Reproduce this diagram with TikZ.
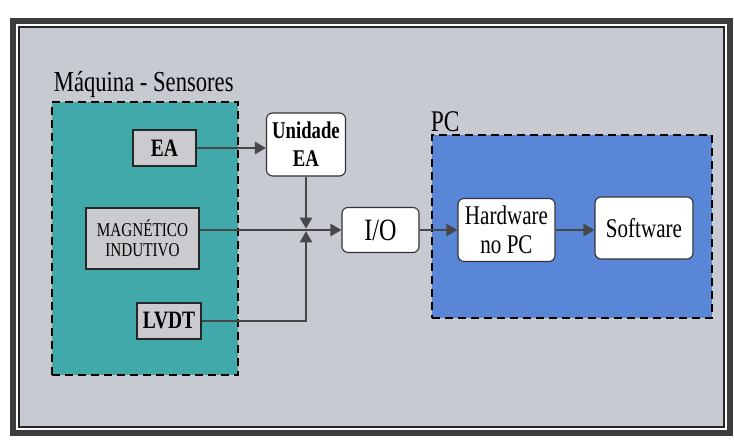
\documentclass[tikz,border=0pt]{standalone}
\usepackage{fontspec}
\setmainfont{Liberation Serif}[FakeStretch=0.78]
\usetikzlibrary{positioning, arrows.meta}
\definecolor{msgray}{HTML}{C8CAD1}
\definecolor{msteal}{HTML}{41A9A9}
\definecolor{msblue}{HTML}{5A86D8}
\definecolor{msbox}{HTML}{CACBCF}
\definecolor{msline}{HTML}{474747}
\definecolor{msframe}{HTML}{3C3C3C}

\begin{document}
\begin{tikzpicture}[x=1pt, y=1pt,
    grp/.style={draw=black, line width=2.6pt, dash pattern=on 8pt off 5pt, inner sep=0pt},
    sens/.style={draw=black!85, line width=1.2pt, fill=msbox, inner sep=0pt, align=center},
    wbox/.style={draw=black!80, line width=1.1pt, fill=white, rounded corners=6pt, inner sep=0pt, align=center},
    flow/.style={draw=msline, line width=2.6pt, -{Triangle[length=11pt, width=12pt]}}]
  \useasboundingbox (0,0) rectangle (734,443);
  % moldura
  \fill[msframe] (10,7) rectangle (733,425);
  \fill[white] (16,13) rectangle (727,419);
  \fill[black!85] (18,15) rectangle (725,417);
  \fill[msgray] (20,17) rectangle (723,415);

  % grupos
  \node[grp, fill=msteal, minimum width=186pt, minimum height=273pt] (maq) at (145,204.5) {};
  \node[grp, fill=msblue, minimum width=280pt, minimum height=183pt] (pc) at (572,216.5) {};
  \node[anchor=base west, inner sep=0pt, font=\fontsize{29}{29}\selectfont] (maqlbl)
    at ([xshift=3pt, yshift=9pt]maq.north west) {Máquina - Sensores};
  \node[anchor=base west, inner sep=0pt, font=\fontsize{30}{30}\selectfont] (pclbl)
    at ([yshift=2pt]pc.north west) {PC};

  % sensores
  \node[sens, minimum width=63pt, minimum height=36pt, font=\bfseries\fontsize{25}{25}\selectfont] (ea) at (164.5,295) {EA};
  \node[sens, minimum width=113pt, minimum height=61pt, font=\fontsize{19.5}{20}\selectfont] (mag) at (142.5,204.5) {MAGNÉTICO\\INDUTIVO};
  \node[sens, minimum width=64pt, minimum height=36pt, font=\bfseries\fontsize{25}{25}\selectfont] (lvdt) at (169,122) {LVDT};

  % blocos
  \node[wbox, minimum width=79pt, minimum height=63pt, font=\bfseries\fontsize{24}{28}\selectfont] (unid) at (306,298.5) {Unidade\\EA};
  \node[wbox, minimum width=77pt, minimum height=45pt, font=\fontsize{31}{31}\selectfont] (io) at (380.5,213) {I/O};
  \node[wbox, minimum width=97pt, minimum height=63pt, font=\fontsize{27}{29}\selectfont] (hw) at (506.5,213) {Hardware\\no PC};
  \node[wbox, minimum width=98pt, minimum height=62pt, font=\fontsize{27}{27}\selectfont] (sw) at (644,215) {Software};
  \coordinate (jn) at (unid |- io.west);

  % ligacoes
  \draw[flow] (ea) -- (ea -| unid.west);
  \draw[flow, shorten >=1.3pt] (unid) -- (jn);
  \draw[flow] (mag.east |- jn) -- (io);
  \draw[flow, shorten >=1.3pt] (lvdt) -| (jn);
  \draw[flow] (io) -- (hw);
  \draw[flow] (hw) -- (hw -| sw.west);
\end{tikzpicture}
\end{document}
